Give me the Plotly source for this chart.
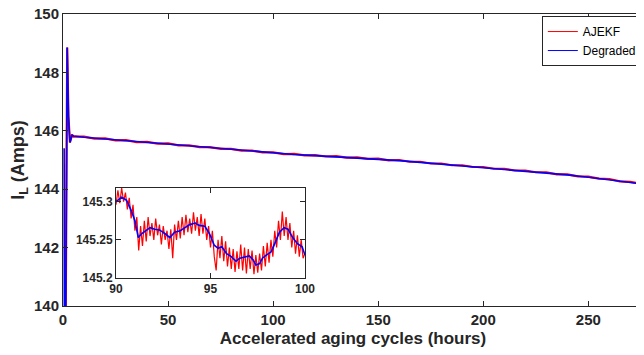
import plotly.graph_objects as go

# ---------------- main series ----------------
blue_x = [0.55, 0.65, 1.25, 2.0, 2.6, 3.3, 4.3, 5, 10, 20, 30, 40, 50, 60, 70, 80, 90, 100,
          110, 120, 130, 140, 150, 160, 170, 180, 190, 200, 210, 220, 230, 240, 250, 260, 270, 276]
blue_y = [145.4, 139.0, 139.0, 148.85, 146.5, 145.6, 145.85, 145.82, 145.78, 145.72, 145.66,
          145.60, 145.55, 145.48, 145.42, 145.36, 145.30, 145.24, 145.19, 145.15, 145.11, 145.07,
          145.03, 144.98, 144.92, 144.86, 144.80, 144.74, 144.68, 144.62, 144.56, 144.49, 144.41,
          144.33, 144.23, 144.17]

red_x = [1.25, 2.0, 2.6, 3.3, 4.3, 5, 10, 15, 20, 25, 30, 35, 40, 45, 50, 55, 60, 65, 70, 75, 80,
         85, 90, 95, 100, 105, 110, 115, 120, 125, 130, 135, 140, 145, 150, 155, 160, 165, 170,
         175, 180, 185, 190, 195, 200, 205, 210, 215, 220, 225, 230, 235, 240, 245, 250, 255, 260,
         265, 270, 276]
red_y = [139.0, 148.85, 146.5, 145.6, 145.87, 145.80, 145.80, 145.73, 145.74, 145.67, 145.68,
         145.61, 145.62, 145.56, 145.57, 145.50, 145.50, 145.44, 145.44, 145.38, 145.38, 145.32,
         145.32, 145.26, 145.26, 145.20, 145.21, 145.16, 145.17, 145.12, 145.13, 145.08, 145.09,
         145.04, 145.05, 144.99, 145.00, 144.94, 144.94, 144.88, 144.88, 144.82, 144.82, 144.76,
         144.76, 144.70, 144.70, 144.64, 144.64, 144.58, 144.58, 144.51, 144.51, 144.44, 144.43,
         144.36, 144.35, 144.27, 144.25, 144.18]

# ---------------- inset series ----------------
inset_blue_x = [90.0, 90.3, 90.56, 90.83, 91.0, 91.18, 91.35, 91.6, 91.8, 92.05, 92.3, 92.6, 92.85,
                93.1, 93.4, 93.65, 93.9, 94.2, 94.4, 94.7, 94.95, 95.2, 95.4, 95.6, 95.85, 96.1,
                96.35, 96.55, 96.8, 97.05, 97.25, 97.4, 97.6, 97.75, 97.95, 98.2, 98.4, 98.65,
                98.9, 99.1, 99.35, 99.6, 99.85, 100.0]
inset_blue_y = [145.300, 145.306, 145.302, 145.287, 145.275, 145.253, 145.258, 145.262, 145.266,
                145.264, 145.263, 145.258, 145.253, 145.260, 145.262, 145.266, 145.270, 145.272,
                145.269, 145.268, 145.258, 145.243, 145.239, 145.241, 145.232, 145.228, 145.222,
                145.226, 145.228, 145.229, 145.224, 145.217, 145.219, 145.226, 145.230, 145.234,
                145.245, 145.260, 145.266, 145.264, 145.253, 145.245, 145.241, 145.230]

inset_red_x = [90.0, 90.1, 90.2, 90.3, 90.4, 90.5, 90.6, 90.7, 90.8, 90.9,
               91.0, 91.1, 91.2, 91.3, 91.4, 91.5, 91.6, 91.7, 91.8, 91.9,
               92.0, 92.1, 92.2, 92.3, 92.4, 92.5, 92.6, 92.7, 92.8, 92.9,
               93.0, 93.1, 93.2, 93.3, 93.4, 93.5, 93.6, 93.7, 93.8, 93.9,
               94.0, 94.1, 94.2, 94.3, 94.4, 94.5, 94.6, 94.7, 94.8, 94.9,
               95.0, 95.1, 95.2, 95.3, 95.4, 95.5, 95.6, 95.7, 95.8, 95.9,
               96.0, 96.1, 96.2, 96.3, 96.4, 96.5, 96.6, 96.7, 96.8, 96.9,
               97.0, 97.1, 97.2, 97.3, 97.4, 97.5, 97.6, 97.7, 97.8, 97.9,
               98.0, 98.1, 98.2, 98.3, 98.4, 98.5, 98.6, 98.7, 98.8, 98.9,
               99.0, 99.1, 99.2, 99.3, 99.4, 99.5, 99.6, 99.7, 99.8, 99.9, 100.0]
inset_red_y = [145.296, 145.315, 145.298, 145.318, 145.300, 145.312, 145.290, 145.305, 145.278, 145.296,
               145.262, 145.280, 145.236, 145.268, 145.242, 145.275, 145.248, 145.280, 145.255, 145.272,
               145.250, 145.278, 145.256, 145.270, 145.244, 145.268, 145.250, 145.262, 145.238, 145.264,
               145.226, 145.270, 145.250, 145.275, 145.252, 145.280, 145.256, 145.283, 145.260, 145.278,
               145.258, 145.286, 145.262, 145.280, 145.255, 145.284, 145.258, 145.278, 145.250, 145.268,
               145.240, 145.262, 145.228, 145.210, 145.250, 145.226, 145.255, 145.222, 145.248, 145.215,
               145.240, 145.212, 145.238, 145.208, 145.235, 145.212, 145.244, 145.210, 145.240, 145.206,
               145.238, 145.212, 145.236, 145.205, 145.230, 145.207, 145.232, 145.210, 145.242, 145.215,
               145.246, 145.220, 145.250, 145.228, 145.262, 145.240, 145.275, 145.250, 145.287, 145.255,
               145.280, 145.250, 145.272, 145.240, 145.262, 145.232, 145.256, 145.228, 145.250, 145.226, 145.232]

main_xticks = [0, 50, 100, 150, 200, 250]
main_yticks = [140, 142, 144, 146, 148, 150]
inset_xticks = [90, 95, 100]
inset_yticks = [145.2, 145.25, 145.3]
inset_yticklabels = ["145.2", "145.25", "145.3"]

FONT = "Liberation Sans"
AX = "#262626"

fig = go.Figure()
fig.add_trace(go.Scatter(x=red_x, y=red_y, mode="lines", name="AJEKF", showlegend=False,
                         line=dict(color="#ff0000", width=2.2), xaxis="x", yaxis="y"))
fig.add_trace(go.Scatter(x=blue_x, y=blue_y, mode="lines", name="Degraded", showlegend=False,
                         line=dict(color="#0000ff", width=1.6), xaxis="x", yaxis="y"))
fig.add_trace(go.Scatter(x=inset_red_x, y=inset_red_y, mode="lines", showlegend=False,
                         line=dict(color="#ff0000", width=1.2), xaxis="x2", yaxis="y2"))
fig.add_trace(go.Scatter(x=inset_blue_x, y=inset_blue_y, mode="lines", showlegend=False,
                         line=dict(color="#0000ff", width=1.6), xaxis="x2", yaxis="y2"))
# legend entries (thin lines as in the reference)
fig.add_trace(go.Scatter(x=[None], y=[None], mode="lines", name="AJEKF",
                         line=dict(color="#ff0000", width=1), xaxis="x", yaxis="y"))
fig.add_trace(go.Scatter(x=[None], y=[None], mode="lines", name="Degraded",
                         line=dict(color="#0000ff", width=1), xaxis="x", yaxis="y"))

common = dict(showline=True, linecolor=AX, linewidth=1, mirror="ticks", ticks="inside",
              tickcolor=AX, ticklen=5, showgrid=False, zeroline=False, automargin=False,
              ticklabeloverflow="allow")

fig.update_layout(
    width=636, height=347,
    margin=dict(l=55, r=1, t=6, b=49),
    paper_bgcolor="white", plot_bgcolor="white",
    font=dict(family=FONT, color=AX),
    xaxis=dict(range=[0, 276], tickvals=main_xticks, domain=[0, 1],
               tickfont=dict(size=15, family=FONT, weight="bold"),
               title=dict(text="<b>Accelerated aging cycles (hours)</b>",
                          font=dict(size=17, family=FONT), standoff=5),
               **common),
    yaxis=dict(range=[140, 150], tickvals=main_yticks, domain=[0, 1],
               tickfont=dict(size=15, family=FONT, weight="bold"),
               title=dict(text="<b>I<sub>L</sub> (Amps)</b>",
                          font=dict(size=18, family=FONT), standoff=6),
               **common),
    xaxis2=dict(range=[90, 100], tickvals=inset_xticks, domain=[0.0914, 0.4172], anchor="y2",
                tickfont=dict(size=12, family=FONT, weight="bold"), **common),
    yaxis2=dict(range=[145.2, 145.318], tickvals=inset_yticks, ticktext=inset_yticklabels,
                domain=[0.0959, 0.4041], anchor="x2",
                tickfont=dict(size=12, family=FONT, weight="bold"), **common),
    legend=dict(x=0.998, y=0.993, xanchor="right", yanchor="top",
                bgcolor="white", bordercolor=AX, borderwidth=1,
                font=dict(size=12, family=FONT, color="black"),
                tracegroupgap=0, itemwidth=30),
    showlegend=True,
)

fig.write_html("out.html")
